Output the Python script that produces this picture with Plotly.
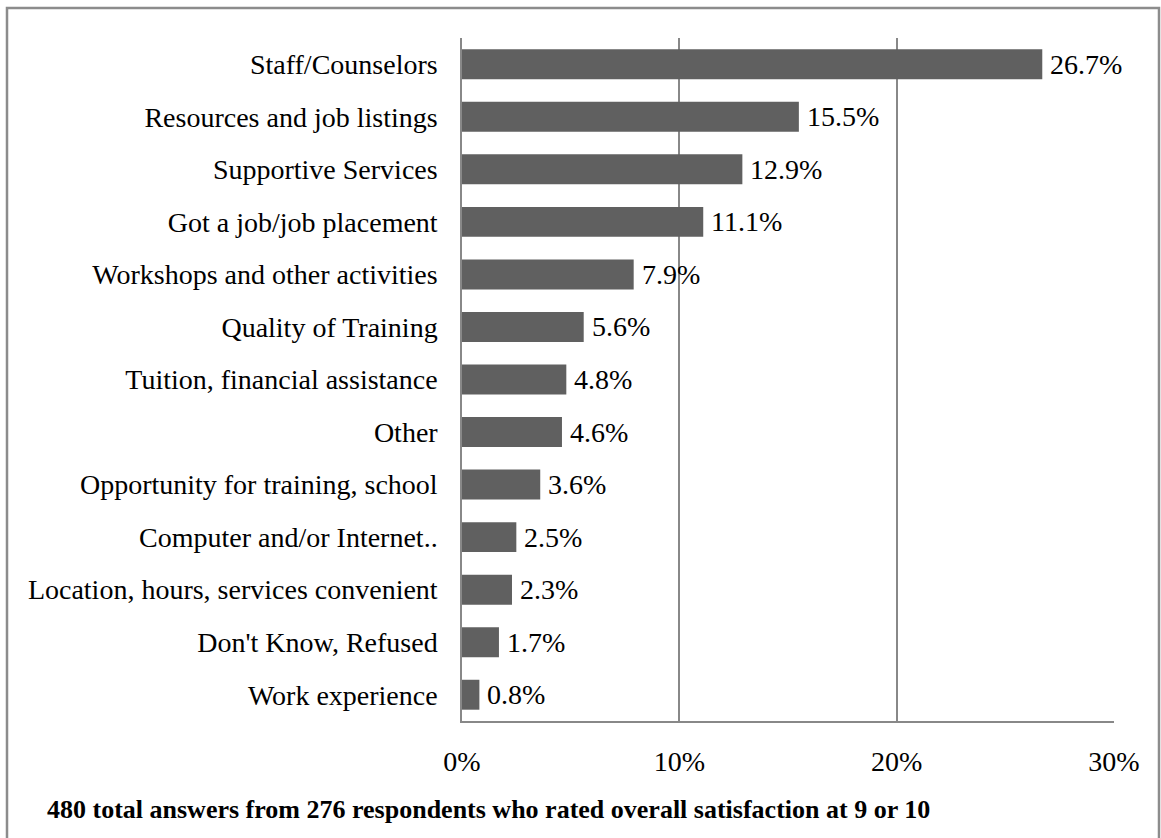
import plotly.graph_objects as go

# Reasons given by highly satisfied respondents (share of all answers)
categories = [
    "Staff/Counselors",
    "Resources and job listings",
    "Supportive Services",
    "Got a job/job placement",
    "Workshops and other activities",
    "Quality of Training",
    "Tuition, financial assistance",
    "Other",
    "Opportunity for training, school",
    "Computer and/or Internet..",
    "Location, hours, services convenient",
    "Don't Know, Refused",
    "Work experience",
]
shares = [26.7, 15.5, 12.9, 11.1, 7.9, 5.6, 4.8, 4.6, 3.6, 2.5, 2.3, 1.7, 0.8]
x_ticks = [0, 10, 20, 30]
x_tick_labels = ["0%", "10%", "20%", "30%"]
footnote = "480 total answers from 276 respondents who rated overall satisfaction at 9 or 10"

FONT = "Liberation Serif"
GRID = "#888888"

fig = go.Figure(
    go.Bar(
        x=shares,
        y=categories,
        orientation="h",
        marker=dict(color="#606060", line=dict(width=0)),
        hoverinfo="skip",
    )
)

# value labels just past the end of each bar
for cat, val in zip(categories, shares):
    fig.add_annotation(
        x=val, y=cat, text=f"{val:.1f}%", showarrow=False,
        xanchor="left", yanchor="middle", xshift=6,
        font=dict(family=FONT, size=28, color="#000000"),
    )

fig.add_annotation(
    xref="paper", yref="paper",
    x=(45 - 462) / 652, y=(721 - 809) / 683,
    xanchor="left", yanchor="middle",
    text=f"<b>{footnote}</b>", showarrow=False,
    font=dict(family=FONT, size=26, color="#000000"),
)

# outer frame around the whole chart
fig.add_shape(
    type="rect", xref="paper", yref="paper",
    x0=(7 - 462) / 652, x1=(1159 - 462) / 652,
    y0=(721 - 850) / 683, y1=(721 - 8) / 683,
    line=dict(color="#8c8c8c", width=2.5), fillcolor="rgba(0,0,0,0)",
    layer="below",
)

fig.update_layout(
    width=1161, height=838,
    margin=dict(l=462, r=47, t=38, b=117),
    paper_bgcolor="white", plot_bgcolor="white",
    bargap=0.43,
    showlegend=False,
    font=dict(family=FONT, size=28, color="#000000"),
    xaxis=dict(
        range=[0, 30], tickvals=x_ticks, ticktext=x_tick_labels,
        showgrid=True, gridcolor=GRID, gridwidth=1.5,
        zeroline=False, showline=True, linecolor=GRID, linewidth=1.5,
        ticks="", ticklabelstandoff=15,
        tickfont=dict(family=FONT, size=28, color="#000000"),
        fixedrange=True,
    ),
    yaxis=dict(
        categoryorder="array", categoryarray=categories[::-1],
        showgrid=False, zeroline=False,
        showline=True, linecolor=GRID, linewidth=1.5,
        ticks="", ticklabelstandoff=17,
        tickfont=dict(family=FONT, size=28, color="#000000"),
        fixedrange=True,
    ),
)

fig.write_html("out.html")
